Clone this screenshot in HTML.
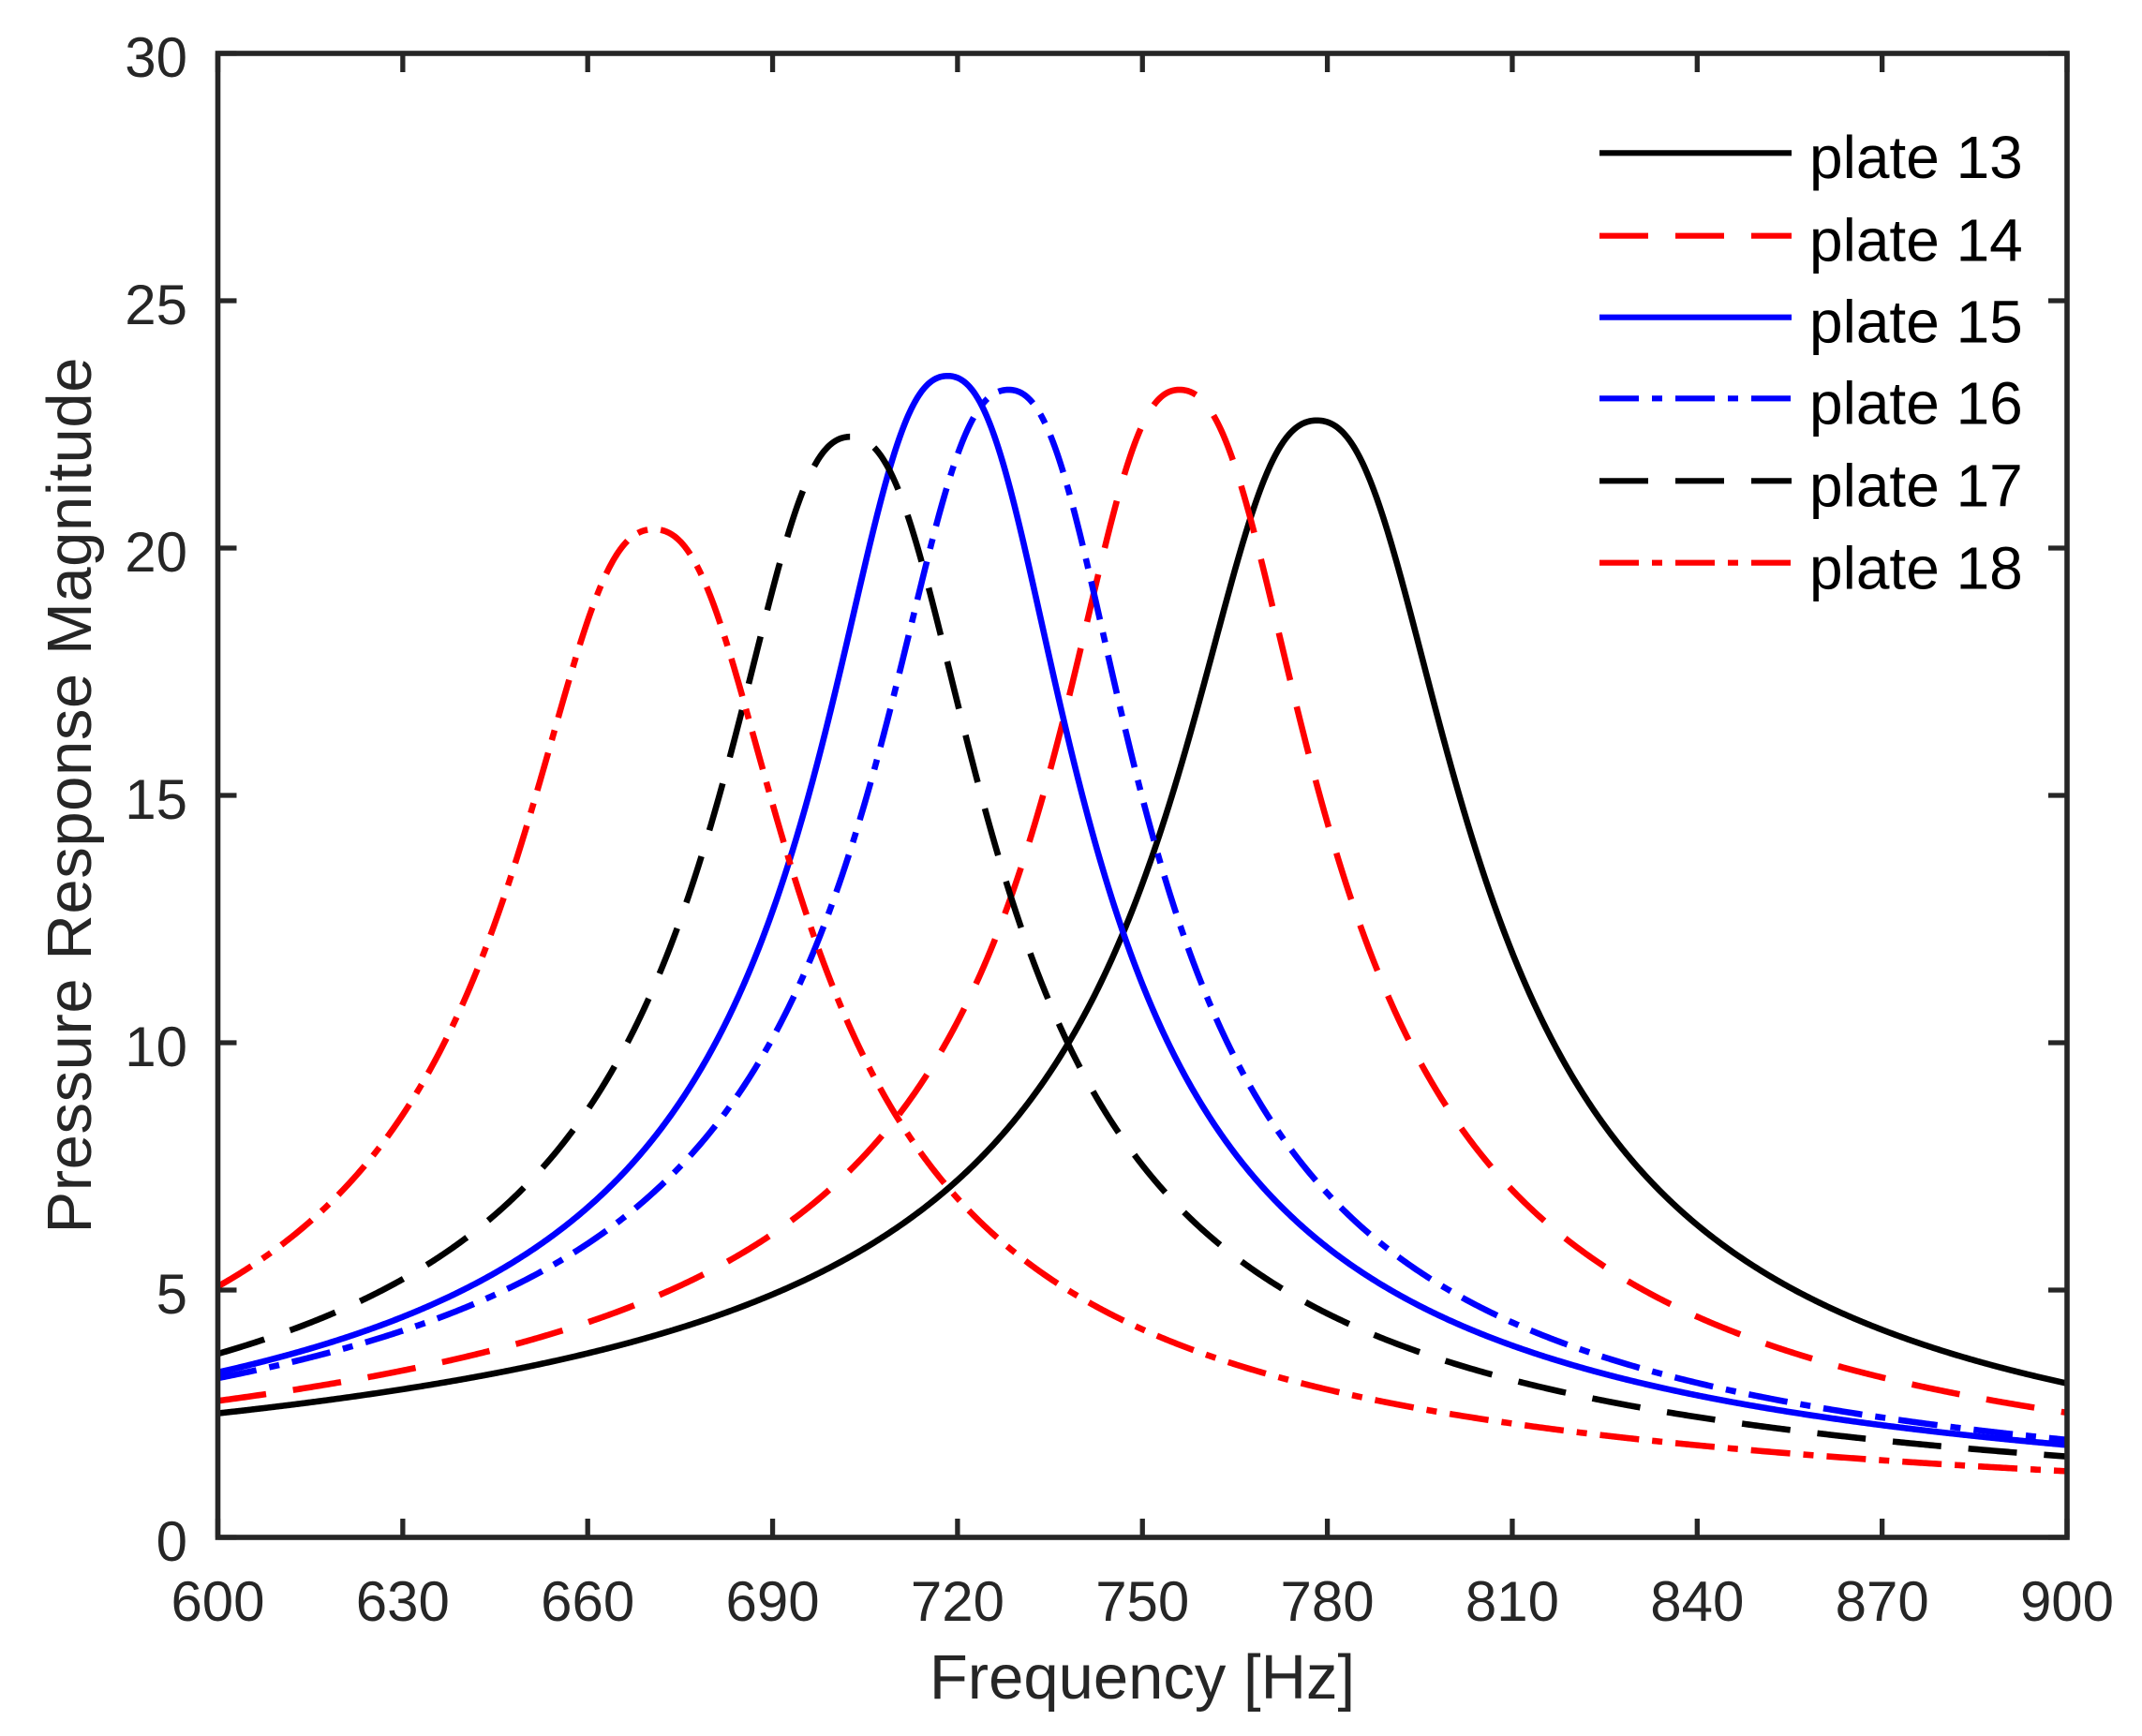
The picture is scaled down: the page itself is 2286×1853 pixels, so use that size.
<!DOCTYPE html>
<html>
<head>
<meta charset="utf-8">
<style>
html,body{margin:0;padding:0;background:#fff;}
svg{display:block;}
text{font-family:"Liberation Sans",Arial,sans-serif;}
</style>
</head>
<body>
<svg id="chart" width="2286" height="1853" viewBox="0 0 2286 1853" xmlns="http://www.w3.org/2000/svg">
<rect x="0" y="0" width="2286" height="1853" fill="#fff"/>
<defs>
<clipPath id="plotclip"><rect x="232.5" y="57" width="1973.5" height="1584"/></clipPath>
</defs>
<g id="series" clip-path="url(#plotclip)" fill="none" stroke-width="6.6" stroke-linecap="butt" stroke-linejoin="round"></g>
<g id="axes" stroke="#262626" fill="none"></g>
<text x="1219" y="1813" font-size="67" fill="#262626" text-anchor="middle">Frequency [Hz]</text>
<text transform="translate(97,849) rotate(-90)" x="0" y="0" font-size="67" fill="#262626" text-anchor="middle" textLength="935" lengthAdjust="spacing">Pressure Response Magnitude</text>
<g id="legend" stroke-width="6.2" fill="none">
<line x1="1707" y1="163.3" x2="1912" y2="163.3" stroke="#000"/>
<line x1="1707" y1="251.7" x2="1912" y2="251.7" stroke="#f00" stroke-dasharray="52 29"/>
<line x1="1707" y1="338.7" x2="1912" y2="338.7" stroke="#00f"/>
<line x1="1707" y1="425.3" x2="1912" y2="425.3" stroke="#00f" stroke-dasharray="42 14 11 14"/>
<line x1="1707" y1="513.3" x2="1912" y2="513.3" stroke="#000" stroke-dasharray="52 29"/>
<line x1="1707" y1="600.7" x2="1912" y2="600.7" stroke="#f00" stroke-dasharray="42 14 11 14"/>
</g>
<g fill="#000" font-size="64">
<text x="1931" y="190">plate 13</text>
<text x="1931" y="278.3">plate 14</text>
<text x="1931" y="365.7">plate 15</text>
<text x="1931" y="452.3">plate 16</text>
<text x="1931" y="540.7">plate 17</text>
<text x="1931" y="628.3">plate 18</text>
</g>
<g fill="#262626" font-size="60" text-anchor="middle">
<text x="232.5" y="1730">600</text>
<text x="429.85" y="1730">630</text>
<text x="627.2" y="1730">660</text>
<text x="824.55" y="1730">690</text>
<text x="1021.9" y="1730">720</text>
<text x="1219.25" y="1730">750</text>
<text x="1416.6" y="1730">780</text>
<text x="1613.95" y="1730">810</text>
<text x="1811.3" y="1730">840</text>
<text x="2008.65" y="1730">870</text>
<text x="2206" y="1730">900</text>
</g>
<g fill="#262626" font-size="60" text-anchor="end">
<text x="200" y="1666">0</text>
<text x="200" y="1402">5</text>
<text x="200" y="1138">10</text>
<text x="200" y="874">15</text>
<text x="200" y="610">20</text>
<text x="200" y="346">25</text>
<text x="200" y="82">30</text>
</g>
</svg>
<script>
(function(){
  var NS="http://www.w3.org/2000/svg";
  var X=function(f){return 232.5+(f-600)*1973.5/300;};
  var Y=function(v){return 1641-v*52.8;};
  var C=0.5;
  function rr(u,p){ return Math.pow(1+C*u*u+u*u*u, p/3); }
  var series=[
    {P:22.58,f0:778.3,c:"#000",d:null,
     data:[[600,2.57],[619.2,2.80],[638.4,3.17],[657.6,3.62],[676.8,4.30],[696,5.2],[710.4,6.17],[720,7.14],[729.6,8.49],[736.3,9.69],[742,11.04],[746.8,12.39],[750.5,13.58],[760.8,17.63],
           [803.7,14.03],[809,12.16],[814.8,10.44],[821.5,8.94],[829.2,7.67],[839.7,6.32],[850.3,5.42],[864.7,4.52],[879.1,3.85],[900,3.06]]},
    {P:23.2,f0:756.0,c:"#f00",d:"52 29",
     data:[[600,2.80],[615.4,3.10],[626.9,3.32],[640.3,3.66],[651.8,4.07],[662.4,4.45],[674.9,5.12],[686.4,5.79],[696.0,6.47],[702.7,7.07],[709.4,8.04],[715.2,9.24],[719.0,10.44],[722.8,11.38],[725.7,12.24],[729.6,13.7],[743.8,20.28],
           [773.25,17.88],[781.6,13.96],[784.2,12.91],[788.4,11.45],[793.4,9.99],[799.4,8.68],[806.9,7.41],[815.5,6.32],[825.5,5.38],[836.4,4.63],[847.9,4.07],[859.9,3.58],[871.7,3.21],[883.9,2.87],[895.9,2.61],[900,2.54]]},
    {P:23.48,f0:718.4,c:"#00f",d:null,
     data:[[600,3.40],[615.4,3.85],[631.7,4.52],[646.1,5.42],[657.6,6.32],[668.1,7.52],[679.7,9.54],[686.9,11.79],[692.9,14.03],[700.5,17.63],
           [736.3,17.63],[746.8,12.54],[752.4,10.44],[759.1,8.79],[768.7,7.14],[780.2,5.79],[794.6,4.67],[810.9,3.77],[829.2,3.13],[850.3,2.65],[869.5,2.35],[900,1.88]]},
    {P:23.2,f0:728.3,c:"#00f",d:"42 14 11 14",
     data:[[600,3.25],[623.0,3.92],[640.3,4.67],[653.7,5.42],[667.2,6.47],[676.8,7.59],[684.5,8.79],[690.7,10.29],[696.0,11.79],[701.7,13.81],
           [733.9,22.52],[744.6,17.85],[753.3,13.81],[757.2,12.01],[762,10.44],[766.8,9.24],[772.5,8.19],[780.2,6.92],[787.9,5.95],[799.4,4.97],[812.8,4.15],[829.2,3.47],[850.3,2.95],[864.7,2.50],[878.1,2.29],[900,1.95]]},
    {P:22.25,f0:702.65,c:"#000",d:"52 29",
     data:[[600,3.73],[603.6,3.88],[615.2,4.37],[626.7,4.97],[637.4,5.76],[647.2,6.69],[655.7,7.85],[662.6,9.12],[668.3,10.51],[673.3,11.95],[677.4,13.43],[689.4,18.96],[695.7,21.36],
           [707.7,21.8],[711.0,20.9],[712.8,20.35],[715.1,19.43],[716.3,18.86],[718.2,17.92],[727.4,13.73],[730.5,12.39],[734.6,10.92],[739.8,9.49],[746.0,8.15],[753.4,6.92],[762.4,5.85],[772.5,4.96],[783.5,4.27],[795.1,3.70],[806.9,3.26],[819.0,2.90],[831.2,2.62],[843.5,2.38],[900,1.69]]},
    {P:20.38,f0:670.7,c:"#f00",d:"42 14 11 14",
     data:[[600,5.12],[615.4,6.39],[627.8,8.12],[634.1,9.39],[639.8,10.81],[645.1,12.54],[648.9,14.03],[662.0,18.9],
           [683.0,17.79],[692.6,14.03],[696.0,12.54],[700.8,10.81],[706.0,9.39],[712.3,8.04],[719.5,6.84],[728.6,5.72],[741.1,4.67],[749.7,4.15],[778.3,3.17],[807.1,2.35],[900,1.33]]}
  ];
  function fitSide(s, pts){
    var best={e:1e99,g:16,p:1};
    for(var g=10;g<=32;g+=0.1){
      for(var p=0.75;p<=1.35;p+=0.005){
        var e=0;
        for(var i=0;i<pts.length;i++){
          var u=Math.abs(pts[i][0]-s.f0)/g;
          var m=s.P/rr(u,p);
          var dl=Math.log(m)-Math.log(pts[i][1]);
          e+=dl*dl;
        }
        if(e<best.e){best={e:e,g:g,p:p};}
      }
    }
    return best;
  }
  var g=document.getElementById("series");
  series.forEach(function(s){
    var L=[],R=[];
    s.data.forEach(function(pt){ if(pt[0]<s.f0) L.push(pt); else R.push(pt); });
    var bl=fitSide(s,L), br=fitSide(s,R);
    var pts=[];
    for(var i=0;i<=1200;i++){
      var f=600+i*0.25;
      var D=f-s.f0, b=D<0?bl:br;
      var v=s.P/rr(Math.abs(D)/b.g,b.p);
      pts.push((i?"L":"M")+X(f).toFixed(2)+" "+Y(v).toFixed(2));
    }
    var p=document.createElementNS(NS,"path");
    p.setAttribute("d",pts.join(""));
    p.setAttribute("stroke",s.c);
    if(s.d) p.setAttribute("stroke-dasharray",s.d);
    g.appendChild(p);
  });
  var a=document.getElementById("axes");
  function line(x1,y1,x2,y2,w){
    var l=document.createElementNS(NS,"line");
    l.setAttribute("x1",x1);l.setAttribute("y1",y1);
    l.setAttribute("x2",x2);l.setAttribute("y2",y2);
    l.setAttribute("stroke-width",w);
    a.appendChild(l);
  }
  for(var k=0;k<=10;k++){
    var x=X(600+30*k);
    line(x,1641,x,1621,5.3);
    line(x,57,x,77,5.3);
  }
  for(var j=0;j<=6;j++){
    var y=Y(5*j);
    line(232.5,y,252.5,y,5.3);
    line(2206,y,2186,y,5.3);
  }
  var r=document.createElementNS(NS,"rect");
  r.setAttribute("x",232.5);r.setAttribute("y",57);
  r.setAttribute("width",1973.5);r.setAttribute("height",1584);
  r.setAttribute("stroke-width",5.6);
  a.appendChild(r);
})();
</script>
</body>
</html>
